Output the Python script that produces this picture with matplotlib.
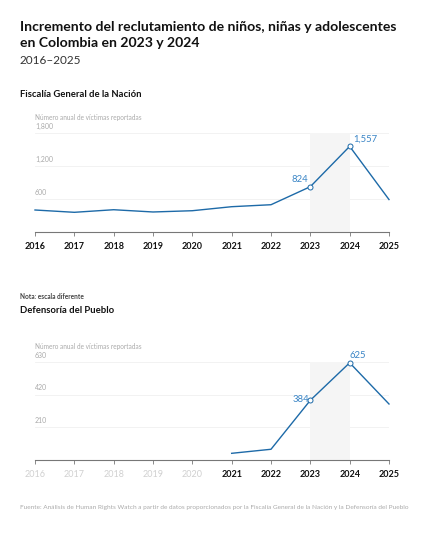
import matplotlib
matplotlib.use("Agg")
import matplotlib.pyplot as plt

years = list(range(2016, 2026))
fiscalia = [400, 358, 405, 364, 387, 460, 496, 824, 1557, 590]
def_years = [2021, 2022, 2023, 2024, 2025]
defensoria = [43, 69, 384, 625, 360]
top_ticks = [600, 1200, 1800]
top_tick_labels = ["600", "1,200", "1,800"]
bot_ticks = [210, 420, 630]
bot_tick_labels = ["210", "420", "630"]

LINE = "#1d6aa8"
LBL = "#3a85c6"
FONT = "Lato"

plt.rcParams['font.family'] = [FONT, 'DejaVu Sans']

fig = plt.figure(figsize=(4.33, 5.33), dpi=100)

def fy(py):
    return 1 - py / 533.0

def fx(px):
    return px / 433.0

fig.text(fx(20), fy(31), "Incremento del reclutamiento de niños, niñas y adolescentes",
         fontsize=10.1, fontweight='bold', color='#111111', va='baseline')
fig.text(fx(20), fy(47), "en Colombia en 2023 y 2024",
         fontsize=10.1, fontweight='bold', color='#111111', va='baseline')
fig.text(fx(20), fy(64), "2016–2025", fontsize=8.5, color='#333333', va='baseline')
fig.text(fx(20), fy(97), "Fiscalía General de la Nación", fontsize=6.8,
         fontweight='bold', color='#111111', va='baseline')
fig.text(fx(20), fy(299), "Nota: escala diferente", fontsize=4.7,
         fontweight='bold', color='#444444', va='baseline')
fig.text(fx(20), fy(313), "Defensoría del Pueblo", fontsize=6.8,
         fontweight='bold', color='#111111', va='baseline')
fig.text(fx(20), fy(509), "Fuente: Análisis de Human Rights Watch a partir de datos proporcionados por la Fiscalía General de la Nación y la Defensoría del Pueblo",
         fontsize=4.65, color='#aaaaaa', va='baseline')

def setup(ax, ticks, tick_labels, ymax, dark_from):
    ax.set_xlim(2016, 2025)
    ax.set_ylim(0, ymax)
    for s in ['top', 'right', 'left']:
        ax.spines[s].set_visible(False)
    ax.spines['bottom'].set_color('#777777')
    ax.spines['bottom'].set_linewidth(0.8)
    ax.set_yticks([])
    ax.set_xticks(years)
    ax.set_xticklabels([str(y) for y in years])
    ax.tick_params(axis='x', length=3, width=0.6, color='#777777', pad=4)
    for lab, y in zip(ax.get_xticklabels(), years):
        lab.set_fontsize(6.5)
        if y >= dark_from:
            lab.set_fontweight('bold')
            lab.set_color('#111111')
        else:
            lab.set_color('#d0d0d0')
    for t, tl in zip(ticks, tick_labels):
        ax.axhline(t, color='#f0f0f0', lw=0.6, zorder=0)
        ax.text(2016, t + ymax * 0.035, tl, fontsize=5.0, color='#aaaaaa',
                ha='left', va='bottom')
    ax.text(2016, ymax * 1.12, "Número anual de víctimas reportadas", fontsize=4.7,
            color='#aaaaaa', ha='left', va='bottom', clip_on=False)
    ax.axvspan(2023, 2024, color='#f5f5f5', zorder=0, lw=0)

ax1 = fig.add_axes([fx(35), fy(232), fx(389) - fx(35), fy(133) - fy(232)])
setup(ax1, top_ticks, top_tick_labels, 1800, 2016)
ax1.plot(years, fiscalia, color=LINE, lw=1.0, zorder=3, clip_on=False)
for yr, lab, dx, ha in [(2023, "824", -0.05, 'right'), (2024, "1,557", 0.08, 'left')]:
    v = fiscalia[years.index(yr)]
    ax1.plot([yr], [v], marker='o', ms=3.6, mfc='white', mec=LINE, mew=0.7,
             zorder=4, clip_on=False)
    ax1.text(yr + dx, v + 40, lab, color=LBL, fontsize=6.8, ha=ha, va='bottom')

ax2 = fig.add_axes([fx(35), fy(460), fx(389) - fx(35), fy(362) - fy(460)])
setup(ax2, bot_ticks, bot_tick_labels, 630, 2021)
ax2.plot(def_years, defensoria, color=LINE, lw=1.0, zorder=3, clip_on=False)
for yr, lab, dx, dy, ha in [(2023, "384", -0.04, -22, 'right'), (2024, "625", 0.0, 18, 'left')]:
    v = defensoria[def_years.index(yr)]
    ax2.plot([yr], [v], marker='o', ms=3.6, mfc='white', mec=LINE, mew=0.7,
             zorder=4, clip_on=False)
    ax2.text(yr + dx, v + dy, lab, color=LBL, fontsize=6.8, ha=ha, va='bottom',
             clip_on=False)

fig.savefig("out.png", dpi=100)
